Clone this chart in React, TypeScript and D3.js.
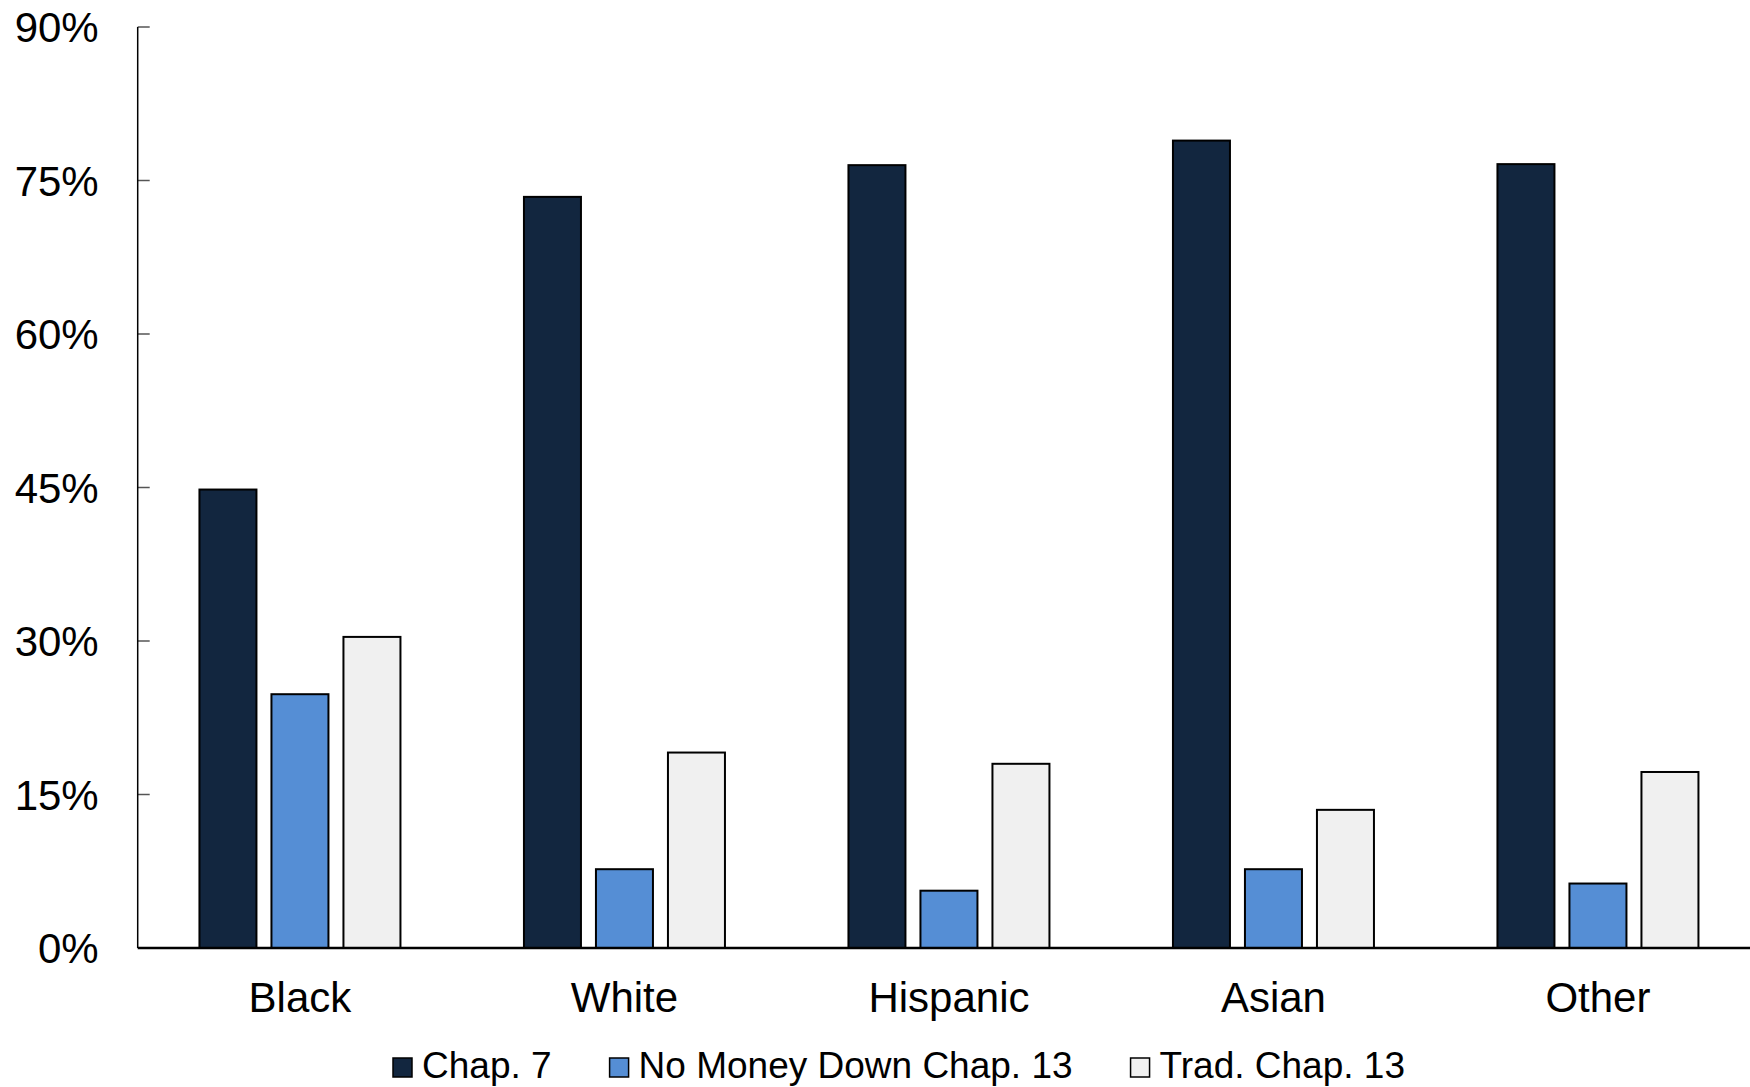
import { useEffect, useRef } from "react";
import * as d3 from "d3";

const groups = ["Black", "White", "Hispanic", "Asian", "Other"];
const seriesNames = ["Chap. 7", "No Money Down Chap. 13", "Trad. Chap. 13"];
const chap7 = [44.8, 73.4, 76.5, 78.9, 76.6];
const noMoneyDown13 = [24.8, 7.7, 5.6, 7.7, 6.3];
const trad13 = [30.4, 19.1, 18.0, 13.5, 17.2];
const seriesColors = ["#12263f", "#558ed5", "#f0f0f0"];
const yTicks = [0, 15, 30, 45, 60, 75, 90];

const FONT = "'Liberation Sans', Arial, Helvetica, sans-serif";

export default function App() {
  const svgRef = useRef<SVGSVGElement | null>(null);
  const width = 1750;
  const height = 1087;

  useEffect(() => {
    document.body.style.margin = "0";
    if (!svgRef.current) return;
    const svg = d3.select(svgRef.current);
    svg.selectAll("*").remove();

    const left = 137.7;
    const bandW = 324.5;
    const x0 = d3.scaleBand<string>().domain(groups).range([left, left + bandW * groups.length]);
    const x1 = d3
      .scaleBand<string>()
      .domain(seriesNames)
      .range([-108, 108])
      .paddingInner(15 / 72)
      .paddingOuter(7.5 / 72);
    const y = d3.scaleLinear().domain([0, 90]).range([948, 27]);

    const allSeries = [chap7, noMoneyDown13, trad13];
    const rows = groups.flatMap((g, gi) =>
      seriesNames.map((s, si) => ({ g, s, si, v: allSeries[si][gi] }))
    );

    // bars
    svg
      .append("g")
      .selectAll("rect")
      .data(rows)
      .enter()
      .append("rect")
      .attr("x", d => x0(d.g)! + x0.bandwidth() / 2 + x1(d.s)!)
      .attr("y", d => y(d.v))
      .attr("width", x1.bandwidth())
      .attr("height", d => y(0) - y(d.v))
      .attr("fill", d => seriesColors[d.si])
      .attr("stroke", "#000")
      .attr("stroke-width", 2);

    // y axis
    const yAxis = svg.append("g");
    yAxis
      .selectAll("line.tick")
      .data(yTicks.filter(t => t > 0))
      .enter()
      .append("line")
      .attr("x1", left)
      .attr("x2", left + 12)
      .attr("y1", d => y(d))
      .attr("y2", d => y(d))
      .attr("stroke", "#555")
      .attr("stroke-width", 1.5);
    yAxis
      .append("line")
      .attr("x1", left)
      .attr("x2", left)
      .attr("y1", y(90))
      .attr("y2", y(0))
      .attr("stroke", "#000")
      .attr("stroke-width", 1.5);
    yAxis
      .selectAll("text")
      .data(yTicks)
      .enter()
      .append("text")
      .attr("x", left - 39)
      .attr("y", d => y(d))
      .attr("dy", "0.36em")
      .attr("text-anchor", "end")
      .style("font-family", FONT)
      .style("font-size", "42px")
      .style("fill", "#000")
      .text(d => `${d}%`);

    // x axis
    svg
      .append("line")
      .attr("x1", left)
      .attr("x2", width)
      .attr("y1", y(0))
      .attr("y2", y(0))
      .attr("stroke", "#000")
      .attr("stroke-width", 2.5);
    svg
      .append("g")
      .selectAll("text")
      .data(groups)
      .enter()
      .append("text")
      .attr("x", d => x0(d)! + x0.bandwidth() / 2)
      .attr("y", 1012)
      .attr("text-anchor", "middle")
      .style("font-family", FONT)
      .style("font-size", "42px")
      .style("fill", "#000")
      .text(d => d);

    // legend
    const legend = svg.append("g");
    let lx = 393;
    seriesNames.forEach((name, i) => {
      legend
        .append("rect")
        .attr("x", lx)
        .attr("y", 1058)
        .attr("width", 19)
        .attr("height", 19)
        .attr("fill", seriesColors[i])
        .attr("stroke", "#000")
        .attr("stroke-width", 1.5);
      const t = legend
        .append("text")
        .attr("x", lx + 29)
        .attr("y", 1078)
        .style("font-family", FONT)
        .style("font-size", "37px")
        .style("fill", "#000")
        .text(name);
      const tw = (t.node() as SVGTextElement)?.getComputedTextLength() || 0;
      lx += 29 + tw + 58;
    });
  }, []);

  return (
    <svg
      ref={svgRef}
      width={width}
      height={height}
      style={{ display: "block", background: "#fff" }}
    />
  );
}
